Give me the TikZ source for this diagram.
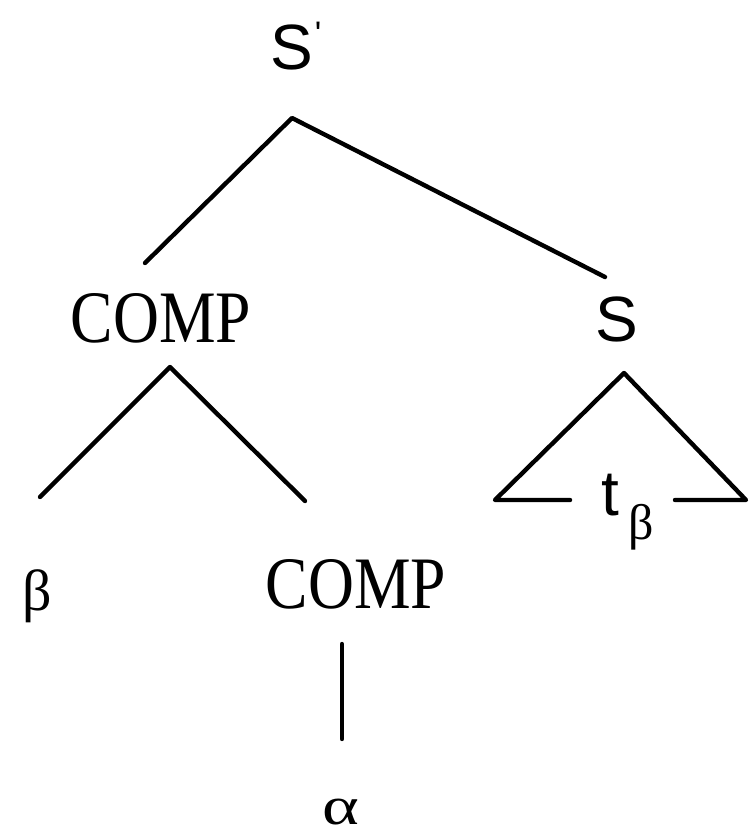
\documentclass[tikz,border=0pt]{standalone}
\usepackage{fontspec}
\newfontfamily\lblsans{Liberation Sans}
\newfontfamily\lblserif{Liberation Serif}
\begin{document}
\begin{tikzpicture}[x=1pt,y=-1pt,
  edge/.style={line width=4.4pt,line cap=round,line join=round},
  cat/.style={inner sep=0pt,font=\lblserif\fontsize{74}{74}\selectfont},
  sanscat/.style={inner sep=0pt,font=\lblsans\fontsize{64}{64}\selectfont},
  greek/.style={inner sep=0pt,font=\lblserif\fontsize{58}{58}\selectfont}]
\useasboundingbox (0,0) rectangle (748,837);
% labels
\node[sanscat] (sbar) at (292,47) {S};
\node[inner sep=0pt,font=\lblsans\fontsize{34}{34}\selectfont,anchor=north] (prime) at (318,22) {'};
\node[cat] (comp1) at (161,318) {\scalebox{0.86}[1]{COMP}};
\node[sanscat] (s) at (617,319) {S};
\node[greek] (beta) at (37,596) {β};
\node[cat] (comp2) at (356,584) {\scalebox{0.86}[1]{COMP}};
\node[greek,font=\lblserif\fontsize{54}{54}\selectfont] (alpha) at (341,812) {\scalebox{1.3}[1]{α}};
\node[inner sep=0pt,font=\lblsans\fontsize{64}{64}\selectfont] (tt) at (610,495) {t};
\node[inner sep=0pt,font=\lblserif\fontsize{50}{50}\selectfont] (tsub) at (641,527) {β};
% endpoints
\coordinate (a0) at (292,118);
\coordinate (a1) at (145,263);
\coordinate (a2) at (605,277);
\coordinate (b0) at (170,367);
\coordinate (b1) at (40,497);
\coordinate (b2) at (305,501);
\coordinate (c0) at (624,373);
\coordinate (c1) at (495,500);
\coordinate (c2) at (746,500);
\coordinate (cl) at (570,500);
\coordinate (cr) at (675,500);
\coordinate (d0) at (342,644);
\coordinate (d1) at (342,739);
% edges
\draw[edge] (a1) -- (a0) -- (a2);
\draw[edge] (b1) -- (b0) -- (b2);
\draw[edge] (cl) -- (c1) -- (c0) -- (c2) -- (cr);
\draw[edge] (d0) -- (d1);
\end{tikzpicture}
\end{document}
